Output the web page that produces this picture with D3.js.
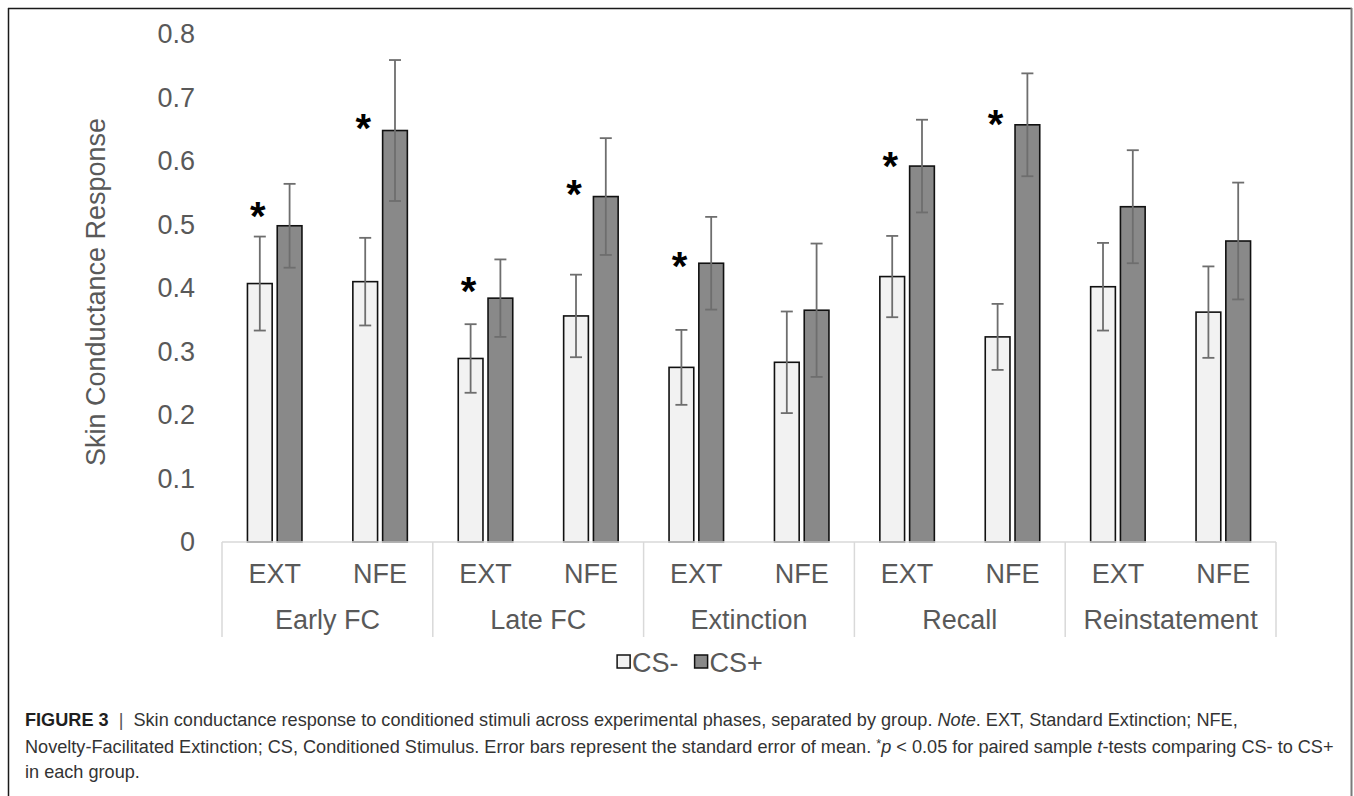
<!DOCTYPE html>
<html>
<head>
<meta charset="utf-8">
<script src="https://cdn.jsdelivr.net/npm/d3@7"></script>
<style>
  html, body { margin: 0; padding: 0; background: #fff; }
  svg { display: block; font-family: "Liberation Sans", Arial, Helvetica, sans-serif; }
</style>
</head>
<body>
<svg id="chart" width="1354" height="796"></svg>
<script>
// ---------- data ----------
const phases = ["Early FC", "Late FC", "Extinction", "Recall", "Reinstatement"];
const groups = ["EXT", "NFE"];
const seriesNames = ["CS-", "CS+"];
// values in order: phase x group (EXT, NFE)
const csMinus   = [0.407, 0.410, 0.289, 0.356, 0.275, 0.283, 0.418, 0.323, 0.402, 0.362];
const csMinusSE = [0.074, 0.069, 0.054, 0.065, 0.059, 0.080, 0.064, 0.052, 0.069, 0.072];
const csPlus    = [0.498, 0.648, 0.384, 0.544, 0.439, 0.365, 0.592, 0.657, 0.528, 0.474];
const csPlusSE  = [0.066, 0.111, 0.061, 0.092, 0.073, 0.105, 0.073, 0.081, 0.089, 0.092];
const significant = [true, true, true, true, true, false, true, true, false, false];
const starLevel   = [0.526, 0.665, 0.408, 0.561, 0.447, null, 0.604, 0.671, null, null];
const yTicks = [0, 0.1, 0.2, 0.3, 0.4, 0.5, 0.6, 0.7, 0.8];
const yTitle = "Skin Conductance Response";

// ---------- build rows ----------
const rows = [];
phases.forEach((p, pi) => groups.forEach((g, gi) => {
  const i = pi * groups.length + gi;
  rows.push({ phase: p, group: g, idx: i,
    values: [
      { s: "CS-", v: csMinus[i], se: csMinusSE[i] },
      { s: "CS+", v: csPlus[i],  se: csPlusSE[i] }
    ],
    sig: significant[i], star: starLevel[i] });
}));

// ---------- layout ----------
const svg = d3.select("#chart");
const W = 1354, H = 796;
const plot = { left: 222, right: 1276, top: 34, bottom: 542 };
const textCol = "#595959";
const fs = 27;

svg.append("rect").attr("width", W).attr("height", H).attr("fill", "#fff");

// frame
svg.append("line").attr("x1", 8).attr("x2", 1352).attr("y1", 8.5).attr("y2", 8.5)
  .attr("stroke", "#1a1a1a").attr("stroke-width", 1.5);
svg.append("line").attr("x1", 8.5).attr("x2", 8.5).attr("y1", 8).attr("y2", 800)
  .attr("stroke", "#1a1a1a").attr("stroke-width", 1.5);
svg.append("line").attr("x1", 1351.5).attr("x2", 1351.5).attr("y1", 8).attr("y2", 800)
  .attr("stroke", "#7a7a7a").attr("stroke-width", 2);

// scales
const y = d3.scaleLinear().domain([0, 0.8]).range([plot.bottom, plot.top]);
const x0 = d3.scaleBand().domain(phases).range([plot.left, plot.right]);
const x1 = d3.scaleBand().domain(groups).range([0, x0.bandwidth()]);
const pairHalf = 27.25;
const x2 = d3.scaleBand().domain(seriesNames).range([-pairHalf, pairHalf]).paddingInner(0.17);
const fill = d3.scaleOrdinal().domain(seriesNames).range(["#f2f2f2", "#898989"]);

const subCenter = r => x0(r.phase) + x1(r.group) + x1.bandwidth() / 2;

// y axis (labels only)
const yAxis = d3.axisLeft(y).tickValues(yTicks).tickSize(0).tickPadding(27)
  .tickFormat(d => d === 0 ? "0" : d3.format(".1f")(d));
const yg = svg.append("g").attr("transform", `translate(${plot.left},0)`).call(yAxis);
yg.select(".domain").remove();
yg.selectAll("text").attr("font-size", fs).attr("fill", textCol)
  .attr("font-family", "Liberation Sans, Arial, sans-serif");

// y title
svg.append("text")
  .attr("transform", `translate(96,${(plot.top + plot.bottom) / 2 + 4}) rotate(-90)`)
  .attr("text-anchor", "middle").attr("dominant-baseline", "central")
  .attr("font-size", fs).attr("fill", textCol).text(yTitle);

// bars
const gBars = svg.append("g");
const rowG = gBars.selectAll("g.row").data(rows).join("g")
  .attr("class", "row").attr("transform", r => `translate(${subCenter(r)},0)`);

rowG.selectAll("rect").data(r => r.values).join("rect")
  .attr("x", d => x2(d.s))
  .attr("width", x2.bandwidth())
  .attr("y", d => y(d.v))
  .attr("height", d => y(0) - y(d.v))
  .attr("fill", d => fill(d.s))
  .attr("stroke", "#111").attr("stroke-width", 1.6);

// error bars
const errCol = "#6e6e6e";
const capW = 6;
rowG.each(function (r) {
  const g = d3.select(this);
  r.values.forEach(d => {
    const cx = x2(d.s) + x2.bandwidth() / 2;
    const yt = y(d.v + d.se), yb = y(d.v - d.se);
    g.append("line").attr("x1", cx).attr("x2", cx).attr("y1", yt).attr("y2", yb)
      .attr("stroke", errCol).attr("stroke-width", 1.8);
    [yt, yb].forEach(yy => g.append("line")
      .attr("x1", cx - capW).attr("x2", cx + capW).attr("y1", yy).attr("y2", yy)
      .attr("stroke", errCol).attr("stroke-width", 1.8));
  });
});

// significance stars
rowG.filter(r => r.sig).append("text")
  .attr("x", x2("CS-") + x2.bandwidth() / 2 - 2)
  .attr("y", r => y(r.star) + 22)
  .attr("text-anchor", "middle").attr("font-weight", "bold")
  .attr("font-size", 40).attr("fill", "#000").text("*");

// x axis: baseline & separators
const axCol = "#d9d9d9";
svg.append("line").attr("x1", plot.left).attr("x2", plot.right)
  .attr("y1", plot.bottom).attr("y2", plot.bottom)
  .attr("stroke", axCol).attr("stroke-width", 1.5);
const seps = phases.map(p => x0(p)).concat([plot.right]);
svg.selectAll("line.sep").data(seps).join("line").attr("class", "sep")
  .attr("x1", d => d).attr("x2", d => d)
  .attr("y1", plot.bottom).attr("y2", 637)
  .attr("stroke", axCol).attr("stroke-width", 1.5);

// group labels
svg.selectAll("text.grp").data(rows).join("text").attr("class", "grp")
  .attr("x", r => subCenter(r)).attr("y", 583)
  .attr("text-anchor", "middle").attr("font-size", fs).attr("fill", textCol)
  .text(r => r.group);

// phase labels
svg.selectAll("text.phase").data(phases).join("text").attr("class", "phase")
  .attr("x", p => x0(p) + x0.bandwidth() / 2).attr("y", 629)
  .attr("text-anchor", "middle").attr("font-size", fs).attr("fill", textCol)
  .text(p => p);

// legend
const leg = svg.append("g");
let lx = 0;
seriesNames.forEach((s, i) => {
  const it = leg.append("g").attr("transform", `translate(${lx},0)`);
  it.append("rect").attr("x", 0).attr("y", -7).attr("width", 13).attr("height", 13)
    .attr("fill", fill(s)).attr("stroke", "#111").attr("stroke-width", 1.5);
  const t = it.append("text").attr("x", 15).attr("y", 10).attr("font-size", fs)
    .attr("fill", textCol).text(s);
  lx += 15 + t.node().getComputedTextLength() + 16;
});
const legW = lx - 16;
leg.attr("transform", `translate(${690 - legW / 2},662)`);

// caption
const cap = svg.append("g").attr("fill", "#333");
const capLines = [
  [["FIGURE 3", "b"], ["  |  ", "sep"], ["Skin conductance response to conditioned stimuli across experimental phases, separated by group. ", ""], ["Note", "i"], [". EXT, Standard Extinction; NFE,", ""]],
  [["Novelty-Facilitated Extinction; CS, Conditioned Stimulus. Error bars represent the standard error of mean. ", ""], ["*", "sup"], ["p", "i"], [" < 0.05 for paired sample ", ""], ["t", "i"], ["-tests comparing CS- to CS+", ""]],
  [["in each group.", ""]]
];
const baselines = [726, 752.5, 778];
const capTexts = capLines.map((parts, li) => {
  const t = cap.append("text").attr("x", 25).attr("y", baselines[li]).attr("font-size", 16)
    .attr("xml:space", "preserve");
  parts.forEach(([s, st]) => {
    const ts = t.append("tspan").text(s);
    if (st === "b") ts.attr("font-weight", "bold").attr("fill", "#1f1f1f");
    if (st === "i") ts.attr("font-style", "italic");
    if (st === "sep") ts.attr("fill", "#555");
    if (st === "sup") ts.attr("font-size", "0.7em").attr("dy", -5);
  });
  return t;
});
// reset dy after superscript
capTexts[1].selectAll("tspan").filter((d, i) => i === 2).attr("dy", 5);
// fit caption font size so line 2 spans the measured width
const w2 = capTexts[1].node().getComputedTextLength();
const capFs = 16 * 1310 / w2;
capTexts.forEach(t => t.attr("font-size", capFs));
</script>
</body>
</html>
